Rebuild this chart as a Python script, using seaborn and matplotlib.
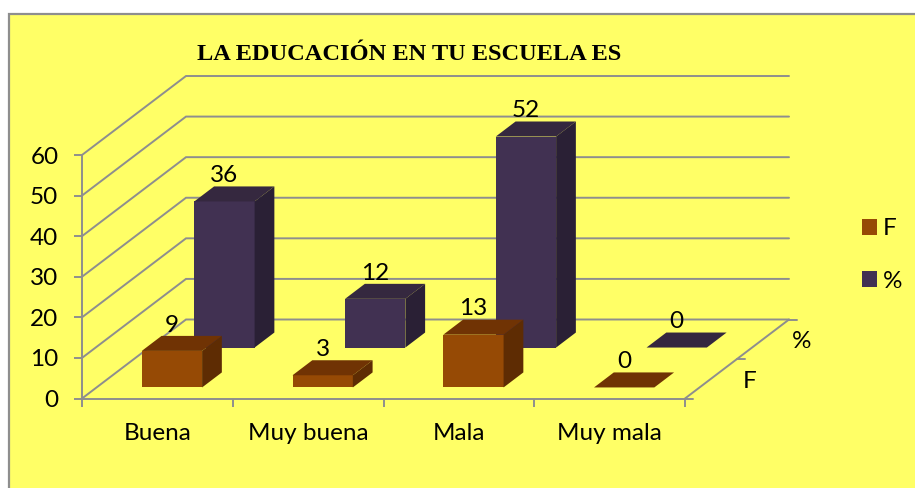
import matplotlib
matplotlib.use("Agg")
import matplotlib.pyplot as plt
from matplotlib.patches import Rectangle
import numpy as np
import pandas as pd
import seaborn as sns

# --- data ---
categories = ["Buena", "Muy buena", "Mala", "Muy mala"]
values_f = [9, 3, 13, 0]
values_pct = [36, 12, 52, 0]
series_names = ["F", "%"]
y_ticks = [0, 10, 20, 30, 40, 50, 60]
title_text = "LA EDUCACIÓN EN TU ESCUELA ES"

# --- style ---
YELLOW = "#FFFF66"
GRAY = "#8E8E8E"
FS = 17.5
STYLE = {
    "F": dict(front="#964A05", top="#703304", side="#5E2C03", depth=(0.14, 0.33), z=5),
    "%": dict(front="#413152", top="#35283F", side="#2A2035", depth=(0.645, 0.835), z=4),
}
W, H = 915, 488
sns.set_theme(style="white")
plt.rcParams["font.family"] = ["Lato", "DejaVu Sans"]

fig = plt.figure(figsize=(W / 100, H / 100), dpi=100, facecolor="white")
fig.add_artist(Rectangle((9 / W, -0.1), 1.1, 1.1 - 14 / H, transform=fig.transFigure,
                         facecolor=YELLOW, edgecolor=GRAY, linewidth=1.6, zorder=-5))

x0, x1, y0, y1 = 82, 685, 398.5, 155
ax = fig.add_axes([x0 / W, 1 - y0 / H, (x1 - x0) / W, (y0 - y1) / H])
ax.patch.set_alpha(0)

# oblique depth vector in data units (category, value)
DX = 104 / ((x1 - x0) / 4)
DY = 79 / ((y0 - y1) / 60)
BAR_W = 0.4
pos = np.arange(len(categories)) + 0.5


def depth_pt(x, y, d):
    return x + d * DX, y + d * DY


# walls: gridlines running along side wall then along back wall
for v in y_ticks:
    bx, by = depth_pt(0, v, 1)
    ax.plot([0, bx, 4 + DX], [v, by, by], color=GRAY, lw=1.4, clip_on=False, zorder=1,
            solid_joinstyle="miter")
# floor right edge
ax.plot([4, 4 + DX], [0, DY], color=GRAY, lw=1.4, clip_on=False, zorder=1)

# bars
for name, vals in zip(series_names, [values_f, values_pct]):
    st = STYLE[name]
    d0, d1 = st["depth"]
    n_before = len(ax.patches)
    df = pd.DataFrame({"x": pos + d0 * DX, "v": vals})
    sns.barplot(data=df, x="x", y="v", native_scale=True, width=BAR_W, color=st["front"],
                saturation=1, errorbar=None, bottom=d0 * DY, linewidth=0, zorder=st["z"],
                label=name, ax=ax)
    for p in ax.patches[n_before:]:
        p.set_clip_on(False)
    for c, v in zip(pos, vals):
        l, r = c - BAR_W / 2, c + BAR_W / 2
        fl, fb = depth_pt(l, v, d0)
        fr, _ = depth_pt(r, v, d0)
        bl, bb = depth_pt(l, v, d1)
        br, _ = depth_pt(r, v, d1)
        ax.fill([fl, fr, br, bl], [fb, fb, bb, bb], color=st["top"], lw=0, clip_on=False, zorder=st["z"])
        if v > 0:
            ax.fill([fr, br, br, fr], [d0 * DY, d1 * DY, bb, fb], color=st["side"], lw=0,
                    clip_on=False, zorder=st["z"])
        ax.annotate(str(v), (c + d0 * DX, v + d0 * DY), xytext=(0, 18.5), textcoords="offset points",
                    ha="center", va="center", fontsize=FS, color="black", zorder=10, annotation_clip=False)

# collect the legend handles before removing the axes legend seaborn adds
handles, labels = ax.get_legend_handles_labels()
if ax.get_legend() is not None:
    ax.get_legend().remove()

# axes
ax.set_xlim(0, 4)
ax.set_ylim(0, 60)
ax.set_xlabel("")
ax.set_ylabel("")
for s in ["top", "right"]:
    ax.spines[s].set_visible(False)
for s in ["left", "bottom"]:
    ax.spines[s].set_color(GRAY)
    ax.spines[s].set_linewidth(1.4)
ax.set_yticks(y_ticks)
ax.set_yticklabels([str(v) for v in y_ticks])
ax.set_xticks(range(5))
ax.set_xticklabels([""] * 5)
ax.set_xticks(pos, minor=True)
ax.set_xticklabels(categories, minor=True)
ax.tick_params(axis="y", left=True, length=6, width=1.4, color=GRAY, labelsize=FS, pad=11, labelcolor="black")
ax.tick_params(axis="x", which="major", bottom=True, length=6, width=1.4, color=GRAY)
ax.tick_params(axis="x", which="minor", bottom=False, length=0, labelsize=FS, pad=17.5, labelcolor="black")

# depth axis ticks and series labels
for d, label in zip([0, 0.5, 1], [None, "F", "%"]):
    tx, ty = depth_pt(4, 0, d)
    ax.plot([tx, tx + 8 / ((x1 - x0) / 4)], [ty, ty], color=GRAY, lw=1.4, clip_on=False, zorder=1)
    if label:
        ax.annotate(label, (tx, ty), xytext=(9, -16), textcoords="offset points", ha="center",
                    va="center", fontsize=FS, color="black", annotation_clip=False)

# title
fig.text(409 / W, 1 - 55 / H, title_text, family="Liberation Serif", fontweight="bold",
         fontsize=17.55, color="black", ha="center", va="center")

# legend
leg = fig.legend(handles, labels, loc="center left", bbox_to_anchor=(862 / W, 1 - 255 / H), frameon=False,
                 fontsize=FS, handlelength=0.62, handleheight=0.62, handletextpad=0.25, labelspacing=1.3,
                 borderpad=0, borderaxespad=0, labelcolor="black")

fig.savefig("out.png", dpi=100, facecolor="white")
